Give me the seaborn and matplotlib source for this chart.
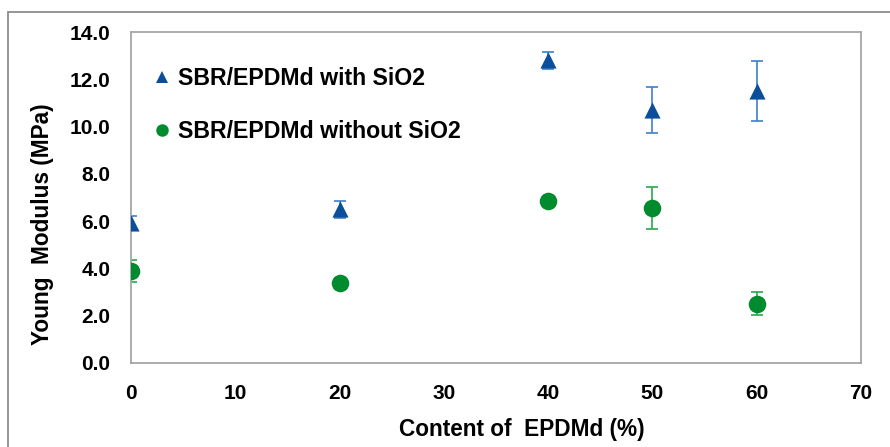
import matplotlib
matplotlib.use("Agg")
import matplotlib.pyplot as plt
from matplotlib.lines import Line2D
from matplotlib.patches import Rectangle
import numpy as np
import pandas as pd
import seaborn as sns

# EPDMd content (%) and measured Young's modulus (MPa) with standard deviations
content = [0, 20, 40, 50, 60]
with_sio2 = [5.92, 6.50, 12.80, 10.70, 11.52]
with_sio2_err = [0.30, 0.35, 0.35, 0.99, 1.27]
without_sio2 = [3.90, 3.40, 6.85, 6.56, 2.51]
without_sio2_err = [0.47, 0.10, 0.15, 0.90, 0.50]

series_names = ["SBR/EPDMd with SiO2", "SBR/EPDMd without SiO2"]
x_ticks = [0, 10, 20, 30, 40, 50, 60, 70]
y_ticks = [0, 2, 4, 6, 8, 10, 12, 14]

marker_colors = {series_names[0]: "#0b4f9c", series_names[1]: "#008c2e"}
bar_colors = {series_names[0]: "#3d7fd0", series_names[1]: "#2aa84a"}
marker_shapes = {series_names[0]: "^", series_names[1]: "o"}

df = pd.concat([
    pd.DataFrame({"content": content, "modulus": with_sio2,
                  "err": with_sio2_err, "series": series_names[0]}),
    pd.DataFrame({"content": content, "modulus": without_sio2,
                  "err": without_sio2_err, "series": series_names[1]}),
], ignore_index=True)

sns.set_theme(style="white")
plt.rcParams["font.family"] = ["Liberation Sans", "DejaVu Sans"]
plt.rcParams["font.weight"] = "bold"
plt.rcParams["text.color"] = "black"

fig = plt.figure(figsize=(8.9, 4.47), dpi=100)
ax = fig.add_axes([131 / 890, 1 - 363 / 447, 730 / 890, 331 / 447])

# error bars underneath the markers
for name in series_names:
    sub = df[df["series"] == name]
    ax.errorbar(sub["content"], sub["modulus"], yerr=sub["err"], fmt="none",
                ecolor=bar_colors[name], elinewidth=1.2, capsize=4.5,
                capthick=1.2, zorder=2)

for name, size in zip(series_names, [135, 160]):
    sns.scatterplot(data=df[df["series"] == name], x="content", y="modulus",
                    marker=marker_shapes[name], color=marker_colors[name],
                    s=size, linewidth=0, ax=ax, zorder=3, legend=False)

ax.set_xlim(0, 70)
ax.set_ylim(0, 14)
ax.set_xticks(x_ticks)
ax.set_yticks(y_ticks)
ax.set_xticklabels([str(t) for t in x_ticks])
ax.set_yticklabels([f"{t:.1f}" for t in y_ticks])
ax.tick_params(axis="both", length=0, labelsize=15, colors="black")
ax.tick_params(axis="x", pad=15)
ax.tick_params(axis="y", pad=15)
for lab in ax.get_xticklabels() + ax.get_yticklabels():
    lab.set_fontweight("bold")

for sp in ax.spines.values():
    sp.set_visible(True)
    sp.set_color("#a6a6a6")
    sp.set_linewidth(1.3)

ax.set_xlabel("Content of  EPDMd (%)", fontsize=16.3, fontweight="bold",
              color="black")
ax.set_ylabel("Young  Modulus (MPa)", fontsize=16.3, fontweight="bold",
              color="black")
ax.xaxis.set_label_coords(0.536, -0.165)
ax.yaxis.set_label_coords(-0.106, 0.42)

handles = [
    Line2D([], [], linestyle="none", marker=marker_shapes[n],
           color=marker_colors[n], markersize=9, markeredgewidth=0)
    for n in series_names
]
leg = ax.legend(handles, series_names, loc="upper left",
                bbox_to_anchor=(0.030, 0.895), frameon=False, borderpad=0,
                borderaxespad=0, handlelength=0.8, handletextpad=0.3,
                labelspacing=1.3, prop={"size": 16.7, "weight": "bold"})
for t in leg.get_texts():
    t.set_color("black")

# outer chart frame
fig.add_artist(Rectangle((8 / 890, -0.02), 1.0, 1 - 12 / 447 + 0.02,
                         transform=fig.transFigure, fill=False,
                         edgecolor="#8c8c8c", linewidth=1.3))

fig.savefig("out.png", dpi=100)
